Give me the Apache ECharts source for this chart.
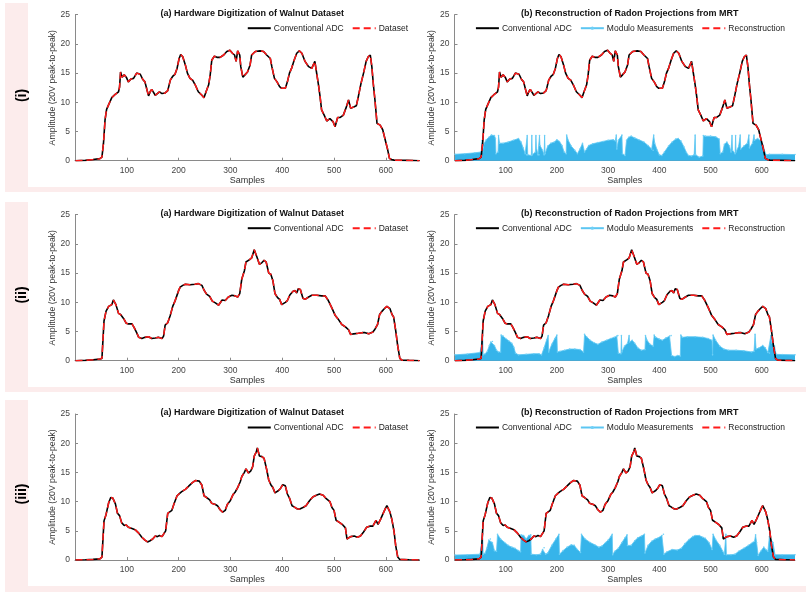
<!DOCTYPE html>
<html><head><meta charset="utf-8">
<script src="https://cdn.jsdelivr.net/npm/echarts@6/dist/echarts.min.js"></script>
<style>html,body{margin:0;padding:0;background:#fff}#c{width:810px;height:596px}</style>
</head><body><div id="c"></div>
<script>
// ---- data (sample index, amplitude) ----
const xTicks = [100,200,300,400,500,600];
const yTicks = [0,5,10,15,20,25];
const rowLabels = ['(i)','(ii)','(iii)'];
const leftTitle = '(a) Hardware Digitization of Walnut Dataset';
const rightTitle = '(b) Reconstruction of Radon Projections from MRT';

const adc1 = [[1,0],[20,0.05],[35,0.2],[48,0.35],[52,0.6],[55,3],[58,7],[61,8.8],[65,9.6],[71,10.8],[77,11.3],[84,11.8],[86,12.6],[88,15.2],[91,14.3],[95,14.7],[99,14.3],[103,13.5],[108,14],[113,14.1],[119,15],[122,15.2],[126,14.8],[131,13.9],[135,13.5],[139,12.1],[142,11.1],[145,11.8],[148,12.2],[151,12.1],[155,11.2],[158,11.4],[163,11.8],[168,11.5],[174,11.6],[179,12],[184,13.8],[189,14.5],[193,14.8],[197,15.8],[201,17.5],[204,18.2],[208,17.8],[213,16.4],[217,15],[222,14.1],[227,13.8],[232,13],[238,11.8],[245,11.2],[249,10.8],[253,11.8],[258,13],[261,14.7],[264,17.2],[269,17.9],[274,17.7],[280,17.7],[287,18.1],[293,18.7],[299,18.9],[304,18.4],[308,18.1],[311,17],[314,18.8],[318,18.1],[320,16.1],[324,14.3],[328,14.7],[333,15.2],[338,16.4],[341,18.1],[348,18.7],[357,18.8],[364,18.7],[370,18.1],[377,17.5],[380,16.1],[385,14.1],[390,13.5],[395,12.7],[399,12.4],[402,12.7],[406,12.4],[410,13.5],[414,15],[418,15.8],[423,17.2],[428,18.4],[433,18.8],[438,18.4],[444,17],[451,16.1],[457,15.8],[460,16.1],[463,17],[467,14.7],[470,13],[473,11],[476,8.7],[481,7.8],[486,6.8],[492,7.2],[498,6.7],[502,5.8],[507,7.4],[512,7.4],[518,7.8],[523,9],[528,10.4],[532,9],[538,9.2],[543,9.4],[547,11],[552,13.2],[557,15],[562,17],[566,17.8],[570,18.1],[573,16.1],[576,13],[579,10.4],[583,6.4],[589,6.1],[594,5.3],[599,3.5],[603,2.1],[607,0.4],[611,0.2],[616,0.1],[640,0.05],[665,0]];

const adc2 = [[1,0],[20,0.05],[35,0.15],[48,0.3],[52,0.4],[56,6.8],[60,8.5],[65,9.3],[71,9.6],[74,10.4],[79,9.6],[84,8.1],[88,7.9],[94,7.2],[99,6.4],[103,6.3],[110,6.3],[114,5.7],[119,4.8],[123,4],[129,3.8],[135,4],[142,4.1],[148,3.8],[155,3.9],[161,4],[168,3.8],[171,4.2],[174,6.1],[179,6.5],[184,7.8],[189,9.4],[193,10.2],[200,12],[203,12.6],[208,12.9],[213,13.1],[222,13],[232,13.1],[238,13.2],[245,12.9],[249,12.1],[254,11.4],[260,11],[265,10.2],[271,9.9],[277,9.5],[280,9.2],[284,10.4],[290,10.3],[296,10.9],[303,11.2],[309,11.1],[314,10.9],[318,11.5],[322,14],[327,15.4],[330,16.9],[337,17.3],[341,17.6],[346,19],[348,19.1],[351,17.8],[356,16.5],[361,16.8],[365,17.2],[369,16.9],[374,15],[378,14.8],[382,13.7],[386,11.5],[391,10.8],[395,10.5],[399,9.6],[406,10],[410,10.3],[415,11.3],[421,11.9],[425,12],[428,11.6],[431,12.3],[435,12.2],[440,10.7],[444,10.5],[451,10.9],[457,11.2],[467,11.2],[476,11.1],[483,11.1],[489,10.3],[496,9],[502,7.8],[509,7],[515,6.2],[522,5.8],[528,5.3],[532,4.5],[538,4.6],[547,4.7],[554,4.8],[560,4.8],[567,4.6],[570,4.4],[575,4.9],[579,5.4],[584,6.2],[588,7.9],[592,8.4],[597,8.9],[602,9.3],[605,9.4],[608,8.9],[612,7.9],[615,7.5],[619,5.2],[623,2.5],[627,0.4],[631,0.1],[645,0.05],[665,0]];

const adc3 = [[1,0],[20,0.05],[35,0.1],[48,0.2],[52,0.5],[56,6.7],[60,7.8],[65,9.8],[69,10.7],[73,10.6],[78,9.6],[82,8],[86,7.6],[90,6.4],[95,5.9],[99,6],[103,5.6],[110,5.4],[116,5.2],[123,4.6],[129,3.9],[135,3.4],[140,3.1],[145,3.3],[150,3.6],[155,4.1],[159,4],[163,4.2],[168,4],[171,4],[175,5],[179,8],[182,8.2],[187,8.5],[191,9.6],[197,11],[202,11.4],[206,11.7],[213,12.1],[219,12.6],[226,13.2],[232,13.6],[235,13.8],[240,13.5],[245,12.8],[249,11],[254,10.7],[260,10.3],[264,9.7],[271,9.5],[275,9.3],[280,8.6],[285,8.2],[290,8.5],[294,9.5],[300,10.2],[305,11.2],[309,11.6],[314,12.4],[319,13.4],[322,14.3],[327,15],[330,15.6],[335,14.9],[339,15.2],[343,16],[346,17.8],[350,18.5],[352,19.2],[356,17.8],[361,17.7],[365,17.4],[370,15.5],[374,13.7],[378,12.9],[382,12.4],[386,11.5],[393,11.9],[397,12.3],[401,12.9],[406,12.7],[410,11.3],[414,10.6],[419,9.3],[423,9.1],[428,8.8],[433,8.7],[440,9],[446,9.3],[453,10.2],[459,10.8],[466,11.1],[472,11.3],[479,11.1],[485,10.5],[492,10],[496,9],[500,8.5],[504,6.8],[511,6.4],[517,6],[522,5.5],[525,3.6],[528,3.5],[532,4],[539,4.1],[545,3.9],[551,4.1],[557,4.8],[563,5.6],[569,5.8],[575,5.8],[578,5.5],[581,6.8],[585,6.1],[588,6.3],[590,7],[594,7.8],[599,8.8],[602,9.3],[605,9],[608,8.2],[612,6.8],[616,4.8],[619,2.5],[623,0.5],[627,0.1],[645,0.05],[665,0]];

const mod1 = [[1,1.1],[20,1.2],[40,1.35],[52,1.5],[54,3.5],[55,1.5],[57,2.8],[62,3.6],[68,4.1],[72,4.4],[78,4.3],[80,3.8],[81,1.2],[85,1.5],[86,4.3],[88,3.0],[95,3.0],[105,3.2],[115,3.5],[125,3.8],[130,3.2],[134,2.2],[138,1.2],[141,1.0],[142,4.3],[143,1.0],[150,0.9],[151,4.3],[152,1.0],[158,1.5],[159,4.3],[160,2.2],[163,1.0],[165,1.0],[166,4.3],[167,2.6],[172,1.8],[175,1.0],[176,4.3],[177,1.2],[182,2.5],[188,3.0],[195,3.2],[200,3.6],[205,3.3],[210,2.6],[214,1.5],[218,1.2],[219,4.4],[222,3.5],[228,2.5],[235,1.8],[240,1.2],[245,2.0],[250,3.0],[254,1.5],[258,2.0],[262,2.6],[270,2.9],[280,3.1],[290,3.3],[300,3.5],[310,3.6],[314,3.4],[316,4.4],[317,2.0],[320,3.5],[327,4.4],[328,1.2],[333,0.9],[336,3.5],[340,4.0],[345,4.2],[352,3.9],[360,3.6],[370,3.2],[378,2.6],[385,2.0],[388,1.8],[389,4.4],[391,3.0],[396,1.8],[400,1.0],[405,0.9],[410,1.5],[418,2.5],[425,3.2],[432,3.7],[437,3.8],[442,3.4],[448,2.4],[453,1.4],[457,0.9],[463,0.8],[468,1.0],[470,4.4],[471,1.0],[478,0.6],[485,0.8],[486,4.3],[490,4.2],[500,4.2],[510,4.1],[517,3.7],[519,1.2],[524,1.5],[527,2.8],[532,3.2],[537,2.5],[540,1.5],[542,4.3],[543,1.8],[548,1.2],[549,4.3],[550,1.5],[555,2.5],[558,4.4],[559,2.0],[565,2.5],[572,3.0],[575,4.4],[576,2.2],[582,3.0],[585,4.4],[586,3.5],[592,3.8],[598,3.4],[603,2.6],[606,1.5],[609,1.0],[615,1.1],[640,1.1],[665,1.05]];

const mod2 = [[1,1.0],[25,1.15],[50,1.4],[53,1.1],[55,4.3],[56,1.0],[60,1.2],[64,1.6],[68,2.6],[71,3.2],[74,3.3],[78,2.6],[82,1.8],[86,1.5],[90,1.5],[91,4.4],[95,4.2],[100,3.8],[106,3.4],[112,3.0],[116,2.3],[119,1.3],[125,1.0],[140,1.1],[155,1.2],[165,1.2],[170,1.0],[175,2.2],[180,3.6],[183,4.3],[184,1.5],[190,2.8],[196,3.8],[200,4.4],[201,1.5],[206,1.6],[215,1.8],[225,2.0],[235,2.0],[245,1.9],[252,1.5],[254,4.5],[258,4.1],[265,3.5],[272,3.1],[280,2.8],[288,3.2],[297,3.5],[305,3.8],[312,4.0],[317,4.2],[319,4.3],[320,1.3],[325,1.2],[326,4.3],[327,1.5],[332,2.5],[338,3.0],[341,4.3],[342,3.2],[347,3.5],[352,3.0],[358,2.2],[365,1.8],[372,1.9],[373,4.3],[376,3.5],[382,2.8],[388,2.5],[390,4.4],[393,4.0],[400,3.7],[406,3.5],[413,3.9],[420,4.2],[423,4.3],[424,0.9],[430,0.7],[436,0.9],[441,0.8],[442,4.4],[445,4.0],[455,4.1],[470,4.1],[485,4.0],[495,3.8],[503,3.5],[504,1.0],[505,4.4],[510,3.5],[518,2.5],[526,2.0],[535,1.8],[550,1.8],[565,1.7],[580,1.5],[585,1.6],[587,4.5],[589,2.0],[595,2.2],[602,2.6],[607,2.2],[612,1.4],[615,1.3],[618,4.3],[620,3.0],[625,2.5],[628,1.1],[640,1.05],[665,1.0]];

const mod3 = [[1,0.85],[25,0.9],[50,1.0],[53,1.0],[55,4.5],[56,1.0],[60,1.2],[63,2.0],[67,3.4],[70,3.6],[74,3.0],[78,1.6],[82,1.5],[84,4.4],[90,3.6],[98,3.0],[105,2.5],[112,2.2],[118,2.0],[125,1.6],[129,1.4],[130,4.3],[135,4.2],[140,3.6],[145,4.2],[149,4.3],[150,1.0],[160,0.9],[168,1.0],[172,1.8],[175,2.1],[178,1.0],[182,1.2],[190,2.5],[198,3.6],[204,4.4],[205,1.0],[212,1.6],[220,2.2],[228,2.6],[234,2.5],[240,1.8],[246,1.3],[248,4.4],[255,3.6],[265,3.0],[274,2.6],[282,2.2],[288,2.4],[295,3.0],[300,3.4],[305,4.0],[308,4.4],[309,0.9],[313,1.5],[320,2.0],[327,3.0],[333,3.8],[337,4.3],[338,2.5],[345,2.5],[352,3.3],[358,3.8],[365,4.1],[371,4.4],[372,1.2],[378,2.5],[385,3.2],[392,3.6],[398,3.8],[405,4.2],[408,4.4],[409,1.0],[415,1.4],[425,1.8],[435,1.7],[443,2.0],[450,2.8],[458,3.5],[465,4.0],[470,4.2],[478,4.2],[485,3.9],[490,3.7],[497,3.0],[503,1.8],[505,4.4],[510,3.5],[518,2.5],[524,1.5],[527,1.0],[530,4.4],[531,0.9],[540,0.9],[548,1.0],[555,1.5],[565,2.0],[574,2.5],[582,3.0],[586,3.2],[588,4.3],[590,3.0],[593,0.8],[598,1.5],[604,2.2],[608,1.8],[612,1.5],[615,4.0],[618,3.5],[622,3.0],[626,0.9],[640,0.9],[665,0.9]];

const adcRows = [adc1, adc2, adc3];
const modRows = [mod1, mod2, mod3];

// ---- layout ----
const FONT = '"Liberation Sans", Arial, Helvetica, sans-serif';
const gridTops = [14.7, 214.7, 414];
const gridH = 146;
const panelTops = [3, 202, 400];
const panelBottoms = [192, 392, 592];
const whiteBottoms = [187, 387, 586];
const L = {left: 75, width: 344.5};
const R = {left: 454.5, width: 340.5};

const grids = [], xAxes = [], yAxes = [], series = [], titles = [], legends = [], graphics = [];
const noDot = {opacity: 0};

for (let r = 0; r < 3; r++) {
  graphics.push({type:'rect', shape:{x:5, y:panelTops[r], width:801, height:panelBottoms[r]-panelTops[r]}, style:{fill:'#fcecec'}, z:-10, silent:true});
  graphics.push({type:'rect', shape:{x:28, y:panelTops[r]-3, width:778, height:whiteBottoms[r]-panelTops[r]+3}, style:{fill:'#ffffff'}, z:-9, silent:true});
  graphics.push({type:'text', x:22, y:(panelTops[r]+panelBottoms[r])/2 - 2, rotation:Math.PI/2,
    style:{text:rowLabels[r], font:'bold 14px ' + FONT, fill:'#000', textAlign:'center', textVerticalAlign:'middle'}, z:10});

  [L, R].forEach((g, c) => {
    const gi = grids.length;
    grids.push({left:g.left, top:gridTops[r], width:g.width, height:gridH, containLabel:false});
    xAxes.push({type:'value', gridIndex:gi, min:0, max:665,
      name:'Samples', nameLocation:'middle', nameGap:15,
      nameTextStyle:{fontFamily:FONT, fontSize:9, color:'#333'},
      axisLine:{show:true, onZero:false, lineStyle:{color:'#8a8a8a', width:1}},
      axisTick:{show:true, inside:true, length:3, customValues:xTicks, lineStyle:{color:'#8a8a8a'}},
      axisLabel:{customValues:xTicks, fontFamily:FONT, fontSize:8.5, color:'#444', margin:5},
      splitLine:{show:false}});
    yAxes.push({type:'value', gridIndex:gi, min:0, max:25, interval:5,
      name:'Amplitude (20V peak-to-peak)', nameLocation:'middle', nameGap:12,
      nameTextStyle:{fontFamily:FONT, fontSize:8.7, color:'#333'},
      axisLine:{show:true, lineStyle:{color:'#8a8a8a', width:1}},
      axisTick:{show:true, inside:true, length:3, lineStyle:{color:'#8a8a8a'}},
      axisLabel:{fontFamily:FONT, fontSize:8.5, color:'#444', margin:5},
      splitLine:{show:false}});
    titles.push({text: c === 0 ? leftTitle : rightTitle, left: g.left + g.width/2, textAlign:'center',
      top: gridTops[r] - 11, textStyle:{fontFamily:FONT, fontSize:9, fontWeight:'bold', color:'#111'}});
    const legendData = c === 0
      ? [{name:'Conventional ADC', itemStyle:noDot}, {name:'Dataset', itemStyle:noDot}]
      : [{name:'Conventional ADC', itemStyle:noDot}, {name:'Modulo Measurements'}, {name:'Reconstruction', itemStyle:noDot}];
    legends.push({data:legendData, right: c === 0 ? 402 : 25, top: gridTops[r] + 9, orient:'horizontal',
      itemWidth:23, itemHeight:4, itemGap:8, textStyle:{fontFamily:FONT, fontSize:8.5, color:'#222', padding:[0,0,0,-2]},
      padding:0, selectedMode:false});

    if (c === 1) {
      series.push({name:'Modulo Measurements', type:'line', xAxisIndex:gi, yAxisIndex:gi, data:modRows[r],
        symbol:'circle', symbolSize:1.6, showSymbol:true, animation:false,
        lineStyle:{color:'#5cc6f2', width:0.8}, itemStyle:{color:'#6fd0f7'},
        areaStyle:{color:'#36b4ea', opacity:1, origin:'start'}, z:1});
    }
    series.push({name:'Conventional ADC', type:'line', xAxisIndex:gi, yAxisIndex:gi, data:adcRows[r],
      showSymbol:false, symbol:'none', animation:false, lineStyle:{color:'#000', width:1.6}, itemStyle:{color:'#000'}, z:2});
    series.push({name: c === 0 ? 'Dataset' : 'Reconstruction', type:'line', xAxisIndex:gi, yAxisIndex:gi, data:adcRows[r],
      showSymbol:false, symbol:'none', animation:false, lineStyle:{color:'#ff1a1a', width:1.5, type:[7,4]}, itemStyle:{color:'#ff1a1a'}, z:3});
  });
}

const chart = echarts.init(document.getElementById('c'), null, {renderer:'canvas'});
chart.setOption({
  animation:false, backgroundColor:'#ffffff',
  title:titles, legend:legends, grid:grids, xAxis:xAxes, yAxis:yAxes, series:series, graphic:graphics
});
</script></body></html>
